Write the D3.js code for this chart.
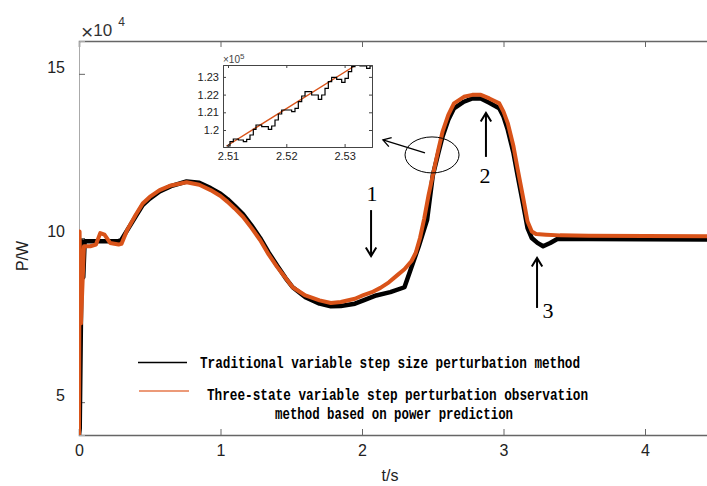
<!DOCTYPE html>
<html>
<head>
<meta charset="utf-8">
<script src="https://cdn.jsdelivr.net/npm/d3@7"></script>
<style>
  body { margin: 0; background: #fff; }
  svg { display: block; }
</style>
</head>
<body>
<div id="chart"></div>
<script>
// main curves, t in s, P in 1e4 W
var tradT = [0, 0.005, 0.02, 0.03, 0.04, 0.28, 0.3, 0.35, 0.4, 0.45, 0.5, 0.57, 0.65, 0.76, 0.85, 0.93, 1.0, 1.05, 1.1, 1.16, 1.22, 1.28, 1.34, 1.4, 1.46, 1.51, 1.6, 1.7, 1.78, 1.85, 1.95, 2.01, 2.1, 2.2, 2.3, 2.35, 2.4, 2.46, 2.5, 2.54, 2.57, 2.61, 2.65, 2.72, 2.78, 2.84, 2.9, 2.97, 3.0, 3.03, 3.07, 3.1, 3.14, 3.17, 3.2, 3.24, 3.28, 3.33, 3.38, 3.6, 4.0, 4.5];
var tradP = [4.0, 4.2, 9.9, 8.8, 9.9, 9.9, 9.95, 10.3, 10.65, 11.0, 11.2, 11.42, 11.58, 11.72, 11.68, 11.52, 11.35, 11.18, 10.98, 10.72, 10.38, 10.0, 9.56, 9.16, 8.78, 8.5, 8.2, 8.0, 7.92, 7.93, 8.0, 8.1, 8.25, 8.35, 8.5, 9.12, 9.73, 10.55, 11.9, 12.6, 13.1, 13.6, 13.95, 14.15, 14.25, 14.25, 14.12, 13.95, 13.7, 13.3, 12.6, 11.9, 11.0, 10.3, 10.0, 9.85, 9.75, 9.85, 9.97, 9.97, 9.96, 9.95];

var predT = [0, 0.004, 0.014, 0.035, 0.08, 0.12, 0.15, 0.18, 0.22, 0.28, 0.3, 0.34, 0.4, 0.45, 0.5, 0.57, 0.65, 0.76, 0.85, 0.93, 1.0, 1.05, 1.1, 1.16, 1.22, 1.28, 1.34, 1.4, 1.46, 1.51, 1.6, 1.7, 1.78, 1.85, 1.95, 2.01, 2.07, 2.13, 2.19, 2.25, 2.3, 2.35, 2.38, 2.41, 2.44, 2.47, 2.51, 2.54, 2.57, 2.61, 2.65, 2.72, 2.78, 2.84, 2.9, 2.97, 3.0, 3.03, 3.07, 3.1, 3.14, 3.17, 3.2, 3.23, 3.3, 3.4, 3.6, 4.0, 4.5];
var predP = [4.0, 10.2, 7.4, 9.75, 9.75, 9.8, 10.15, 10.1, 9.85, 9.8, 9.82, 10.24, 10.7, 11.05, 11.25, 11.46, 11.6, 11.7, 11.62, 11.46, 11.28, 11.1, 10.9, 10.64, 10.3, 9.94, 9.5, 9.12, 8.78, 8.5, 8.25, 8.1, 8.02, 8.05, 8.15, 8.26, 8.35, 8.48, 8.65, 8.87, 9.05, 9.3, 9.55, 10.0, 10.6, 11.3, 12.1, 12.7, 13.25, 13.75, 14.1, 14.3, 14.36, 14.36, 14.25, 14.1, 13.85, 13.5, 12.8, 12.1, 11.2, 10.5, 10.2, 10.12, 10.1, 10.08, 10.07, 10.06, 10.05];

// inset, P in 1e5 W
var insetTradT = [2.50977, 2.51034, 2.51091, 2.51177, 2.51263, 2.51320, 2.51377, 2.51434, 2.51480, 2.51578, 2.51692, 2.51749, 2.51806, 2.51863, 2.51921, 2.52006, 2.52092, 2.52149, 2.52206, 2.52264, 2.52321, 2.52435, 2.52549, 2.52607, 2.52664, 2.52721, 2.52778, 2.52864, 2.52950, 2.53007, 2.53064, 2.53121, 2.53178, 2.53264, 2.53378, 2.53436, 2.53464];
var insetTradP = [1.19096, 1.19341, 1.19492, 1.19435, 1.19341, 1.19473, 1.19718, 1.20038, 1.20282, 1.20188, 1.20038, 1.20226, 1.20565, 1.20904, 1.21130, 1.21130, 1.21036, 1.21224, 1.21601, 1.21921, 1.22166, 1.21977, 1.21733, 1.21977, 1.22354, 1.22731, 1.22976, 1.22863, 1.22693, 1.22919, 1.23295, 1.23578, 1.23767, 1.23616, 1.23484, 1.23616, 1.23672];
var insetPredT = [2.50977, 2.52063, 2.53196];
var insetPredP = [1.19096, 1.21337, 1.23672];

var xTicks = [0, 1, 2, 3, 4];
var yTicks = [5, 10, 15];
var insetXTicks = [2.51, 2.52, 2.53];
var insetYTicks = [1.2, 1.21, 1.22, 1.23];

var legendLabels = ["Traditional variable step size perturbation method",
                    "Three-state variable step perturbation observation",
                    "method based on power prediction"];

var width = 707, height = 486;
var black = "#000", orange = "#D95319", axisCol = "#666";

var svg = d3.select("#chart").append("svg")
    .attr("width", width).attr("height", height)
    .style("font-family", "'Liberation Sans', Arial, sans-serif");

var x = d3.scaleLinear().domain([0, 4.5]).range([79, 79 + 4.5 * 141.5]);
var y = d3.scaleLinear().domain([4, 16]).range([435, 41]);

svg.append("clipPath").attr("id", "plotclip")
  .append("rect").attr("x", 79).attr("y", 41).attr("width", 640).attr("height", 394);

// axes
var gx = svg.append("g").attr("transform", "translate(0,435)")
    .call(d3.axisBottom(x).tickValues(xTicks).tickSize(-6).tickPadding(10).tickFormat(d3.format("d")));
var gtop = svg.append("g").attr("transform", "translate(0,41)")
    .call(d3.axisTop(x).tickValues(xTicks).tickSize(-6).tickFormat(""));
var gy = svg.append("g").attr("transform", "translate(79,0)")
    .call(d3.axisLeft(y).tickValues(yTicks).tickSize(-6).tickPadding(14).tickFormat(d3.format("d")));
[gx, gtop, gy].forEach(function(g){
  g.select(".domain").attr("stroke", axisCol).attr("stroke-width", 1.5);
  g.selectAll(".tick line").attr("stroke", axisCol);
  g.selectAll(".tick text").attr("font-size", 16).attr("fill", "#222")
    .style("font-family", "'Liberation Sans', Arial, sans-serif");
});
gy.select(".domain").attr("stroke", "#aaa").attr("stroke-width", 1);
gy.selectAll(".tick text").attr("dy", "-0.1em");

// exponent label
var ex = svg.append("text").attr("x", 81).attr("y", 39).attr("fill", "#333");
ex.append("tspan").attr("font-size", 21).text("\u00d7");
ex.append("tspan").attr("font-size", 17).attr("dy", -3).text("10");
ex.append("tspan").attr("dx", 6).attr("dy", -10).attr("font-size", 12).text("4");

svg.append("text").attr("x", 390).attr("y", 481).attr("text-anchor", "middle")
  .attr("font-size", 16).attr("fill", "#222").text("t/s");
svg.append("text").attr("transform", "translate(28,256) rotate(-90)").attr("text-anchor", "middle")
  .attr("font-size", 16).attr("fill", "#222").text("P/W");

// curves
var trad = tradT.map(function(t, i){ return {t: t, p: tradP[i]}; });
var pred = predT.map(function(t, i){ return {t: t, p: predP[i]}; });
var line = d3.line().x(function(d){ return x(d.t); }).y(function(d){ return y(d.p); });
var plot = svg.append("g").attr("clip-path", "url(#plotclip)");
plot.append("path").datum(trad).attr("d", line).attr("fill", "none")
  .attr("stroke", black).attr("stroke-width", 4.5).attr("stroke-linejoin", "round");
plot.append("path").datum(pred).attr("d", line).attr("fill", "none")
  .attr("stroke", orange).attr("stroke-width", 4).attr("stroke-linejoin", "round");

// annotations (data coordinates)
var serif = "'Liberation Serif', 'DejaVu Serif', serif";
function arrow(t, p0, p1, t1, w, head) {
  var x0 = x(t), y0 = y(p0), x1 = x(t1 === undefined ? t : t1), y1 = y(p1);
  svg.append("line").attr("x1", x0).attr("y1", y0).attr("x2", x1).attr("y2", y1)
    .attr("stroke", black).attr("stroke-width", w);
  var a = Math.atan2(y1 - y0, x1 - x0), h = head, s = 0.55;
  svg.append("path")
    .attr("d", "M" + (x1 - h * Math.cos(a - s)) + "," + (y1 - h * Math.sin(a - s)) +
      "L" + x1 + "," + y1 + "L" + (x1 - h * Math.cos(a + s)) + "," + (y1 - h * Math.sin(a + s)))
    .attr("fill", "none").attr("stroke", black).attr("stroke-width", w);
}
arrow(2.064, 10.85, 9.45, undefined, 2, 10);
arrow(2.876, 12.47, 13.81, undefined, 2, 10);
arrow(3.237, 7.87, 9.39, undefined, 2, 10);
arrow(2.445, 12.59, 12.99, 2.148, 1.3, 9);
svg.append("ellipse").attr("cx", x(2.495)).attr("cy", y(12.53)).attr("rx", 27).attr("ry", 18)
  .attr("fill", "none").attr("stroke", black).attr("stroke-width", 1);
[["1", 2.07, 11.37], ["2", 2.869, 11.92], ["3", 3.314, 7.81]].forEach(function(d){
  svg.append("text").attr("x", x(d[1])).attr("y", y(d[2])).attr("dy", "0.35em")
    .attr("text-anchor", "middle").attr("font-size", 22).style("font-family", serif)
    .text(d[0]);
});

// inset
var xi = d3.scaleLinear().domain([2.50914, 2.5347]).range([223, 372]);
var yi = d3.scaleLinear().domain([1.1904, 1.23672]).range([147, 65]);
var inset = svg.append("g");
inset.append("rect").attr("x", 223).attr("y", 65).attr("width", 149).attr("height", 82).attr("fill", "#fff");
inset.append("clipPath").attr("id", "insetclip")
  .append("rect").attr("x", 223).attr("y", 65).attr("width", 149).attr("height", 82);
var il = d3.line().x(function(d){ return xi(d.t); }).y(function(d){ return yi(d.p); });
var ig = inset.append("g").attr("clip-path", "url(#insetclip)");
ig.append("path").datum(insetPredT.map(function(t, i){ return {t: t, p: insetPredP[i]}; }))
  .attr("d", il).attr("fill", "none").attr("stroke", orange).attr("stroke-width", 1.3);
ig.append("path").datum(insetTradT.map(function(t, i){ return {t: t, p: insetTradP[i]}; }))
  .attr("d", il.curve(d3.curveStepAfter)).attr("fill", "none").attr("stroke", black).attr("stroke-width", 1.2);

var ixb = inset.append("g").attr("transform", "translate(0,147)")
  .call(d3.axisBottom(xi).tickValues(insetXTicks).tickSize(-3).tickPadding(5).tickFormat(d3.format(".2f")));
var ixt = inset.append("g").attr("transform", "translate(0,65)")
  .call(d3.axisTop(xi).tickValues(insetXTicks).tickSize(-3).tickFormat(""));
var iyl = inset.append("g").attr("transform", "translate(223,0)")
  .call(d3.axisLeft(yi).tickValues(insetYTicks).tickSize(-3).tickPadding(4).tickFormat(function(d){ return d3.format(".2~f")(d); }));
var iyr = inset.append("g").attr("transform", "translate(372,0)")
  .call(d3.axisRight(yi).tickValues(insetYTicks).tickSize(-3).tickFormat(""));
[ixb, ixt, iyl, iyr].forEach(function(g){
  g.select(".domain").attr("stroke", "#444").attr("stroke-width", 1);
  g.selectAll(".tick line").attr("stroke", "#444");
  g.selectAll(".tick text").attr("font-size", 11).attr("fill", "#222")
    .style("font-family", "'Liberation Sans', Arial, sans-serif");
});
var ex5 = inset.append("text").attr("x", 223).attr("y", 63).attr("font-size", 10).attr("fill", "#444");
ex5.append("tspan").text("\u00d710");
ex5.append("tspan").attr("dy", -4).attr("font-size", 8).text("5");

// legend
var mono = "'Liberation Mono', 'DejaVu Sans Mono', monospace";
svg.append("line").attr("x1", 138).attr("x2", 187).attr("y1", 362.5).attr("y2", 362.5)
  .attr("stroke", black).attr("stroke-width", 1.5);
svg.append("line").attr("x1", 139).attr("x2", 189).attr("y1", 391).attr("y2", 391)
  .attr("stroke", "#ec9a78").attr("stroke-width", 2);
[[legendLabels[0], 200, 368, 380], [legendLabels[1], 207, 400, 381], [legendLabels[2], 275, 419, 238]].forEach(function(d){
  svg.append("text").attr("x", d[1]).attr("y", d[2]).attr("font-size", 16)
    .attr("font-weight", "bold").style("font-family", mono)
    .attr("textLength", d[3]).attr("lengthAdjust", "spacingAndGlyphs").text(d[0]);
});
</script>
</body>
</html>
